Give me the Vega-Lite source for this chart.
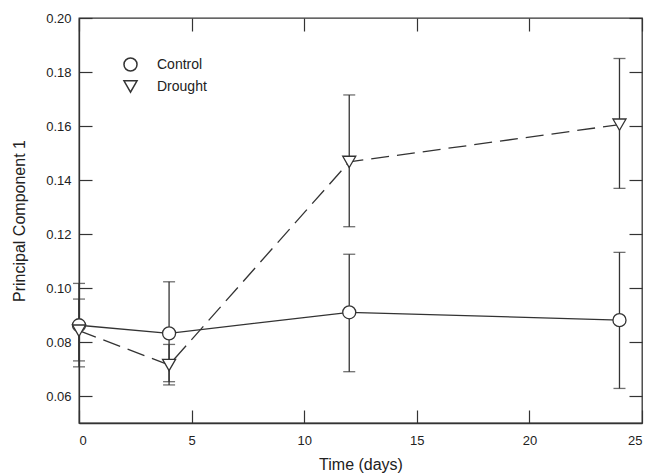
{
  "$schema": "https://vega.github.io/schema/vega-lite/v6.json",
  "width": 563,
  "height": 405,
  "autosize": "none",
  "padding": {"left": 79, "top": 18, "right": 11, "bottom": 51},
  "background": "white",
  "config": {
    "font": "Liberation Sans",
    "view": {"stroke": "#333", "strokeWidth": 1.3},
    "axis": {
      "domainColor": "#333", "domainWidth": 1.3,
      "tickColor": "#333", "tickWidth": 1.2, "tickSize": -13,
      "labelFont": "Liberation Sans", "labelFontSize": 13, "labelColor": "#222",
      "titleFont": "Liberation Sans", "titleFontSize": 16, "titleFontWeight": "normal", "titleColor": "#222",
      "grid": false
    }
  },
  "data": {
    "values": [
      {"group": "Control", "day": 0, "mean": 0.0862, "lo": 0.0708, "hi": 0.1017},
      {"group": "Control", "day": 4, "mean": 0.0832, "lo": 0.0641, "hi": 0.1023},
      {"group": "Control", "day": 12, "mean": 0.0910, "lo": 0.0690, "hi": 0.1125},
      {"group": "Control", "day": 24, "mean": 0.0881, "lo": 0.0628, "hi": 0.1132},
      {"group": "Drought", "day": 0, "mean": 0.0842, "lo": 0.0730, "hi": 0.0959},
      {"group": "Drought", "day": 4, "mean": 0.0715, "lo": 0.0653, "hi": 0.0791},
      {"group": "Drought", "day": 12, "mean": 0.1467, "lo": 0.1227, "hi": 0.1715},
      {"group": "Drought", "day": 24, "mean": 0.1605, "lo": 0.1369, "hi": 0.1850}
    ]
  },
  "layer": [
    {
      "transform": [{"filter": "datum.group === 'Control'"}],
      "mark": {"type": "line", "color": "#333", "strokeWidth": 1.3},
      "encoding": {
        "x": {"field": "day", "type": "quantitative", "scale": {"domain": [0, 25], "nice": false},
              "axis": {"values": [0, 5, 10, 15, 20, 25], "title": "Time (days)", "labelPadding": 24, "titlePadding": 9}},
        "y": {"field": "mean", "type": "quantitative", "scale": {"domain": [0.05, 0.20], "nice": false, "zero": false},
              "axis": {"values": [0.06, 0.08, 0.10, 0.12, 0.14, 0.16, 0.18, 0.20], "format": ".2f", "title": "Principal Component 1", "labelPadding": 21, "titlePadding": 18}}
      }
    },
    {
      "transform": [{"filter": "datum.group === 'Drought'"}],
      "mark": {"type": "line", "color": "#333", "strokeWidth": 1.3, "strokeDash": [18, 8]},
      "encoding": {
        "x": {"field": "day", "type": "quantitative", "axis": null},
        "y": {"field": "mean", "type": "quantitative", "axis": null}
      }
    },
    {
      "mark": {"type": "rule", "color": "#333", "strokeWidth": 1.3},
      "encoding": {
        "x": {"field": "day", "type": "quantitative", "axis": null},
        "y": {"field": "lo", "type": "quantitative", "axis": null},
        "y2": {"field": "hi"}
      }
    },
    {
      "mark": {"type": "tick", "orient": "horizontal", "color": "#333", "size": 12, "thickness": 1.3},
      "encoding": {
        "x": {"field": "day", "type": "quantitative", "axis": null},
        "y": {"field": "lo", "type": "quantitative", "axis": null}
      }
    },
    {
      "mark": {"type": "tick", "orient": "horizontal", "color": "#333", "size": 12, "thickness": 1.3},
      "encoding": {
        "x": {"field": "day", "type": "quantitative", "axis": null},
        "y": {"field": "hi", "type": "quantitative", "axis": null}
      }
    },
    {
      "mark": {"type": "point", "filled": false, "fill": "white", "fillOpacity": 1, "stroke": "#333", "strokeWidth": 1.3, "opacity": 1, "size": 170},
      "encoding": {
        "x": {"field": "day", "type": "quantitative", "axis": null},
        "y": {"field": "mean", "type": "quantitative", "axis": null},
        "shape": {"field": "group", "type": "nominal", "scale": {"domain": ["Control", "Drought"], "range": ["circle", "triangle-down"]},
                  "legend": {"title": null, "orient": "none", "legendX": 44, "legendY": 39, "symbolSize": 170, "labelFontSize": 14, "labelFont": "Liberation Sans", "labelColor": "#222", "rowPadding": 2, "labelOffset": 19,
                             "encode": {"symbols": {"update": {"stroke": {"value": "#333"}, "fill": {"value": "white"}, "strokeWidth": {"value": 1.3}, "opacity": {"value": 1}, "fillOpacity": {"value": 1}, "strokeOpacity": {"value": 1}}}}}}
      }
    },
    {
      "mark": {"type": "point", "opacity": 0},
      "encoding": {
        "x": {"field": "day", "type": "quantitative", "axis": {"orient": "top", "values": [0, 5, 10, 15, 20, 25], "labels": false, "title": null, "domain": false}},
        "y": {"field": "mean", "type": "quantitative", "axis": {"orient": "right", "values": [0.06, 0.08, 0.10, 0.12, 0.14, 0.16, 0.18, 0.20], "labels": false, "title": null, "domain": false}}
      }
    }
  ],
  "resolve": {"axis": {"x": "independent", "y": "independent"}}
}
